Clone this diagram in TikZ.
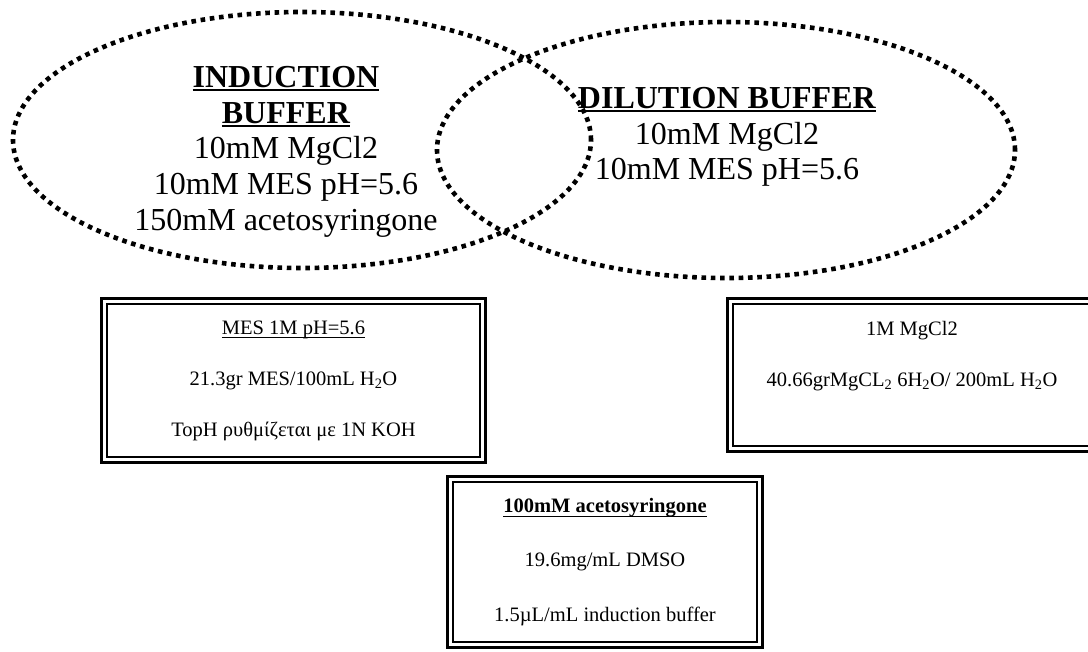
\documentclass[tikz,border=0pt]{standalone}
\usepackage{fontspec}
\setmainfont{Liberation Serif}

\newcommand{\ulbar}[3]{\setbox0\hbox{#3}\rlap{\rule[-#1]{\wd0}{#2}}\box0}

\begin{document}
\begin{tikzpicture}[x=1pt,y=-1pt,
  dotring/.style={line width=4.6pt, dash pattern=on 4.6pt off 4.7pt},
  bigtxt/.style={align=center, inner sep=0pt, font=\fontsize{32}{35.7}\selectfont},
  frame/.style={draw, line width=3.3pt, outer sep=0pt, inner sep=0pt, align=center, font=\fontsize{20.5}{51}\selectfont}]
\path[use as bounding box, fill=white] (0,0) rectangle (1088,652);
\clip (0,0) rectangle (1088,652);
%Puffer-Texte:
\node[bigtxt, anchor=north] (indtxt) at (286,66) {\ulbar{4pt}{2.5pt}{\textbf{INDUCTION}}\\\ulbar{4pt}{2.5pt}{\textbf{BUFFER}}\\10mM MgCl2\\10mM MES pH=5.6\\150mM acetosyringone};
\node[bigtxt, anchor=north] (diltxt) at (727,87) {\ulbar{4pt}{2.5pt}{\textbf{DILUTION BUFFER}}\\10mM MgCl2\\10mM MES pH=5.6};
%Stammloesungen:
\node[frame, minimum width=383.8pt, minimum height=163.8pt] (mesbox) at (293.5,380.5) {\ulbar{4pt}{1.2pt}{MES 1M pH=5.6}\\21.3gr MES/100mL H\textsubscript{2}O\\TopH ρυθμίζεται με 1N KOH};
\node[frame, minimum width=368.8pt, minimum height=152.8pt] (mgbox) at (912,375) {1M MgCl2\\40.66grMgCL\textsubscript{2} 6H\textsubscript{2}O/ 200mL H\textsubscript{2}O\\[-8pt]\mbox{}};
\node[frame, minimum width=314.8pt, minimum height=170.8pt, font=\fontsize{20.5}{54.5}\selectfont] (acbox) at (605,562) {\ulbar{5pt}{1.8pt}{\textbf{100mM acetosyringone}}\\19.6mg/mL DMSO\\1.5µL/mL induction buffer};
\foreach \b in {mesbox,mgbox,acbox}
  \draw[line width=1.8pt] ([xshift=5.1pt,yshift=-5.1pt]\b.north west) rectangle ([xshift=-5.1pt,yshift=5.1pt]\b.south east);
%Ellipsen:
\draw[dotring] (302,140) ellipse [x radius=289pt, y radius=128pt];
\draw[dotring] (726,150) ellipse [x radius=289pt, y radius=128pt];
\end{tikzpicture}
\end{document}
